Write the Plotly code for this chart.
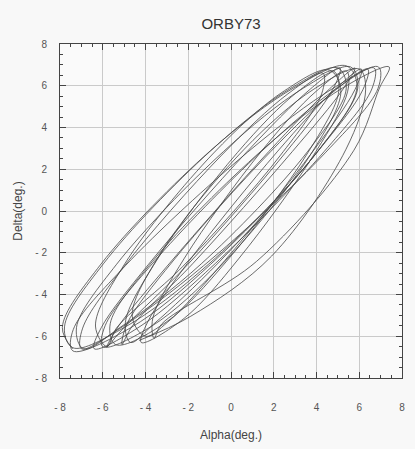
import plotly.graph_objects as go

# Coning-motion trace: successive loops of the Alpha/Delta orbit (deg.)
loop_alpha = [
    [-7.4, -7.89, -6.08, -0.96, 2.99, 5.4, 5.89, 4.08, -1.04, -4.99],
    [-7.4, -7.79, -5.97, -1.01, 2.75, 5.0, 5.39, 3.57, -1.39, -5.15],
    [-6.9, -7.23, -5.35, -0.35, 3.39, 5.6, 5.93, 4.05, -0.95, -4.69],
    [-7.4, -7.38, -4.94, 0.78, 4.78, 6.9, 6.88, 4.44, -1.28, -5.28],
    [-7.0, -6.94, -4.99, -0.47, 2.66, 4.3, 4.24, 2.29, -2.24, -5.36],
    [-5.8, -6.34, -4.97, -0.81, 2.5, 4.6, 5.14, 3.77, -0.39, -3.70],
    [-6.0, -5.89, -3.66, 1.42, 4.91, 6.7, 6.59, 4.36, -0.72, -4.21],
    [-6.4, -6.07, -3.87, 0.73, 3.71, 5.1, 4.77, 2.57, -2.03, -5.01],
    [-5.8, -5.25, -2.87, 1.77, 4.61, 5.8, 5.25, 2.87, -1.77, -4.61],
    [-5.1, -4.87, -2.75, 1.85, 4.91, 6.4, 6.17, 4.05, -0.55, -3.61],
    [-4.7, -4.94, -3.5, 0.3, 3.14, 4.8, 5.04, 3.6, -0.2, -3.04],
    [-5.4, -5.65, -3.67, 1.45, 5.23, 7.4, 6.95, 5.75, 1.2, -3.23],
    [-3.6, -3.66, -2.18, 1.42, 3.99, 5.4, 5.46, 3.98, 0.38, -2.19],
    [-4.2, -3.90, -1.94, 2.19, 4.86, 6.1, 5.80, 3.84, -0.29, -2.96],
    [-4.0, -4.62, -3.38, 0.62, 3.88, 6.0, 6.3, 5.38, 1.9, -1.88],
]
loop_delta = [
    [-6.6, -5.58, -2.54, 2.89, 5.93, 6.95, 5.93, 2.89, -2.54, -5.58],
    [-6.55, -5.55, -2.53, 2.83, 5.85, 6.85, 5.85, 2.83, -2.53, -5.55],
    [-6.6, -5.59, -2.55, 2.85, 5.89, 6.9, 5.89, 2.85, -2.55, -5.59],
    [-6.7, -5.68, -2.62, 2.82, 5.88, 6.9, 5.88, 2.82, -2.62, -5.68],
    [-6.6, -5.61, -2.64, 2.64, 5.61, 6.6, 5.61, 2.64, -2.64, -5.61],
    [-6.5, -5.51, -2.53, 2.78, 5.76, 6.75, 5.76, 2.78, -2.53, -5.51],
    [-6.5, -5.50, -2.50, 2.85, 5.85, 6.85, 5.85, 2.85, -2.50, -5.50],
    [-6.6, -5.59, -2.57, 2.82, 5.84, 6.85, 5.84, 2.82, -2.57, -5.59],
    [-6.5, -5.50, -2.50, 2.85, 5.85, 6.85, 5.85, 2.85, -2.50, -5.50],
    [-6.4, -5.41, -2.44, 2.84, 5.81, 6.8, 5.81, 2.84, -2.44, -5.41],
    [-6.3, -5.33, -2.4, 2.8, 5.73, 6.7, 5.73, 2.8, -2.4, -5.33],
    [-6.4, -5.40, -2.41, 2.91, 5.90, 6.9, 5.90, 2.91, -2.41, -5.40],
    [-6.1, -5.14, -2.26, 2.86, 5.74, 6.7, 5.74, 2.86, -2.26, -5.14],
    [-6.3, -5.32, -2.37, 2.87, 5.82, 6.8, 5.82, 2.87, -2.37, -5.32],
    [-6.0, -5.04, -2.16, 2.96, 5.84, 6.8, 5.84, 2.96, -2.16, -5.04],
]
end_alpha = [-4.3]
end_delta = [-6.2]

tick_vals = [-8, -6, -4, -2, 0, 2, 4, 6, 8]
tick_text = ["- 8", "- 6", "- 4", "- 2", "0", "2", "4", "6", "8"]

alpha = [a for loop in loop_alpha for a in loop] + end_alpha
delta = [d for loop in loop_delta for d in loop] + end_delta

FONT = "Liberation Sans, Arial, sans-serif"

fig = go.Figure()
fig.add_trace(go.Scatter(
    x=alpha, y=delta, mode="lines",
    line=dict(color="#454545", width=0.8, shape="spline", smoothing=1.0),
    hoverinfo="skip", showlegend=False,
))

axis_common = dict(
    range=[-8, 8],
    tickmode="array",
    tickvals=tick_vals,
    ticktext=tick_text,
    ticks="inside",
    ticklen=6,
    tickwidth=1,
    tickcolor="#444",
    mirror="allticks",
    showline=True,
    linecolor="#444",
    linewidth=1,
    showgrid=True,
    gridcolor="#cacaca",
    gridwidth=1,
    zeroline=False,
    tickfont=dict(family=FONT, size=10, color="#555"),
    minor=dict(ticks="inside", ticklen=3, tickcolor="#444", dtick=0.5,
               tick0=0, showgrid=False),
)

fig.update_xaxes(
    **axis_common,
    ticklabelstandoff=20,
    title=dict(text="Alpha(deg.)", standoff=18,
               font=dict(family=FONT, size=12, color="#444")),
)
fig.update_yaxes(
    **axis_common,
    ticklabelstandoff=10,
    title=dict(text="Delta(deg.)", standoff=10,
               font=dict(family=FONT, size=12, color="#444")),
)

fig.update_layout(
    width=415, height=449,
    margin=dict(l=60, r=10, t=44, b=71),
    paper_bgcolor="#f8f8f8",
    plot_bgcolor="#fafafa",
    title=dict(text="ORBY73", x=0.5, xref="paper", y=0.948, yref="container",
               xanchor="center", yanchor="middle",
               font=dict(family=FONT, size=15, color="#333")),
)

fig.write_html("out.html")
